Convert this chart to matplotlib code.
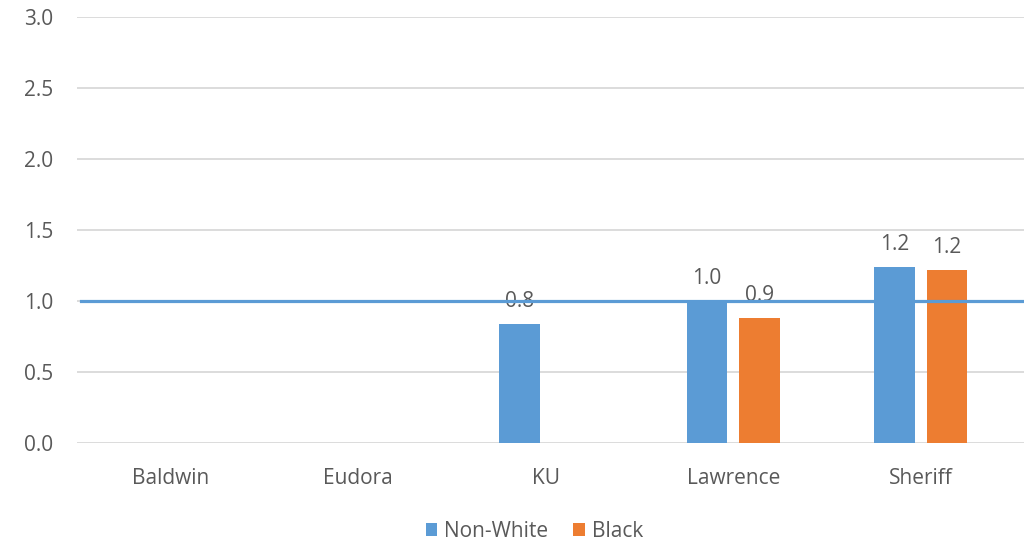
import matplotlib
matplotlib.use("Agg")
import matplotlib.pyplot as plt
import numpy as np

categories = ["Baldwin", "Eudora", "KU", "Lawrence", "Sheriff"]
non_white = [np.nan, np.nan, 0.84, 1.00, 1.24]
black = [np.nan, np.nan, np.nan, 0.88, 1.22]
yticks = [0.0, 0.5, 1.0, 1.5, 2.0, 2.5, 3.0]
reference_level = 1.0

BLUE = "#5B9BD5"
ORANGE = "#ED7D31"
GRID = "#D9D9D9"
TEXT = "#595959"

plt.rcParams["font.family"] = ["Open Sans", "DejaVu Sans"]

fig = plt.figure(figsize=(10.24, 5.47), dpi=100)
ax = fig.add_axes([0.075, 0.190, 0.925, 0.779])

x = np.arange(len(categories))
width = 0.217
offset = 0.14

b1 = ax.bar(x - offset, non_white, width, color=BLUE, label="Non-White", zorder=2)
b2 = ax.bar(x + offset, black, width, color=ORANGE, label="Black", zorder=2)

for bars, vals in ((b1, non_white), (b2, black)):
    for rect, v in zip(bars, vals):
        if np.isnan(v):
            continue
        ax.annotate(f"{v:.1f}", (rect.get_x() + rect.get_width() / 2, v),
                    xytext=(0, 12), textcoords="offset pixels",
                    ha="center", va="bottom", fontsize=15, color=TEXT, zorder=3)

ax.axhline(reference_level, color=BLUE, lw=2.3, zorder=5, xmin=0.004, xmax=1.0)

ax.set_ylim(0, 3.0)
ax.set_xlim(-0.5, len(categories) - 0.45)
ax.set_yticks(yticks)
ax.set_yticklabels([f"{t:.1f}" for t in yticks])
ax.set_xticks(x)
ax.set_xticklabels(categories)
ax.yaxis.grid(True, color=GRID, lw=1.3, zorder=0)
ax.set_axisbelow(True)
for s in ax.spines.values():
    s.set_visible(False)
ax.tick_params(axis="both", length=0, labelsize=15, labelcolor=TEXT)
ax.tick_params(axis="y", pad=17)
ax.tick_params(axis="x", pad=18)

fig.legend(handles=[b1, b2], labels=["Non-White", "Black"], loc="center",
           bbox_to_anchor=(0.522, 0.029), ncol=2, frameon=False, fontsize=15,
           handlelength=0.55, handleheight=0.55, handletextpad=0.35,
           columnspacing=1.2, labelcolor=TEXT)

fig.savefig("out.png", dpi=100, facecolor="white")
